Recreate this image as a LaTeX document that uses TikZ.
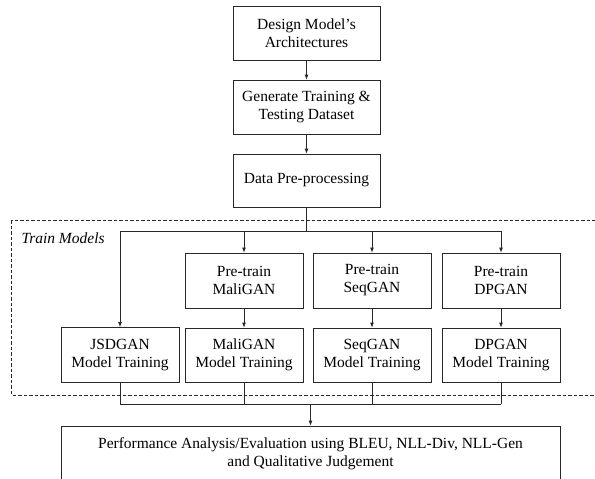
\documentclass[tikz,border=0pt]{standalone}
\usepackage{fontspec}
\setmainfont{Liberation Serif}
\usetikzlibrary{arrows.meta,positioning,calc}
\definecolor{linecol}{RGB}{40,40,40}
\tikzset{
  stage/.style={draw=linecol,fill=white,line width=.8pt,align=center,
                minimum width=147pt,minimum height=54pt,inner sep=2pt},
  gan/.style={stage,minimum width=118pt,minimum height=55pt},
  flow/.style={-{Latex[length=5pt,width=4pt]},draw=linecol,line width=.8pt},
  wire/.style={draw=linecol,line width=.8pt},
  region/.style={draw=linecol,dash pattern=on 3.5pt off 2pt,line width=.7pt},
}

\begin{document}
\begin{tikzpicture}[x=1pt,y=-1pt,font=\fontsize{15.5}{18}\selectfont]
  \useasboundingbox (0,0) rectangle (595,479);
  % train models region
  \draw[region] (11.7,220) rectangle (610,395);
  \node[anchor=west,font=\fontsize{15.5}{18}\selectfont\itshape] (trainlbl)
    at (18,238) {Train Models};
  % preparation chain
  \node[stage] (design) at (306.5,33) {Design Model's\\Architectures};
  \node[stage] (dataset) at (306.5,107) {Generate Training \&\\Testing Dataset};
  \node[stage,minimum height=53pt] (preproc) at (306.5,180.5) {Data Pre-processing};
  \draw[flow] (design) -- (dataset);
  \draw[flow] (dataset) -- (preproc);
  \coordinate (splitbus) at (0,231);
  \coordinate (joinbus) at (0,404);
  % gan models
  \node[gan] (jsdtrain) at (120,355) {JSDGAN\\Model Training};
  \foreach \n/\x/\t in {mali/244/MaliGAN,seq/372/SeqGAN,dp/501/DPGAN}{
    \node[gan] (\n pre) at (\x,280.5) {Pre-train\\\t};
    \node[gan,minimum height=54pt] (\n train) at (\x,355) {\t\\Model Training};
    \draw[flow] (\n pre.north |- splitbus) -- (\n pre);
    \draw[flow] (\n pre) -- (\n train);
    \draw[wire] (\n train) -- (\n train.south |- joinbus);
  }
  \draw[wire] (preproc) -- (preproc.south |- splitbus);
  \draw[wire] (jsdtrain.north |- splitbus) -- (dppre.north |- splitbus);
  \draw[flow] (jsdtrain.north |- splitbus) -- (jsdtrain);
  \draw[wire] (jsdtrain) -- (jsdtrain.south |- joinbus);
  \draw[wire] (jsdtrain.south |- joinbus) -- (dptrain.south |- joinbus);
  % evaluation
  \node[stage,minimum width=499pt,minimum height=56pt] (evaluate) at (310.5,454)
    {Performance Analysis/Evaluation using BLEU, NLL-Div, NLL-Gen\\
     and Qualitative Judgement};
  \draw[flow] (evaluate.north |- joinbus) -- (evaluate);
\end{tikzpicture}
\end{document}
